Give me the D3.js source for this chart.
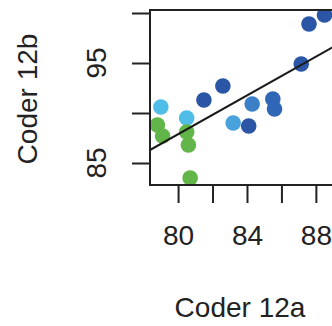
<!DOCTYPE html>
<html>
<head>
<meta charset="utf-8">
<script src="https://cdn.jsdelivr.net/npm/d3@7"></script>
<style>
  body { margin: 0; background: #fff; }
  svg { display: block; font-family: "Liberation Sans", Arial, sans-serif; }
</style>
</head>
<body>
<svg id="chart" width="332" height="326"></svg>
<script>
// scores of the two coders
const coder12a = [88.5, 87.6, 87.15, 82.6, 81.5, 84.3, 85.5, 85.6, 84.1, 83.2, 79.0, 80.5, 78.8, 79.1, 80.5, 80.6, 80.7];
const coder12b = [99.8, 98.9, 94.9, 92.7, 91.3, 90.9, 91.4, 90.4, 88.7, 89.0, 90.6, 89.5, 88.8, 87.7, 88.1, 86.8, 83.5];
const group    = ["d", "d", "d", "d", "d", "m", "md", "md", "d", "l", "c", "c", "g", "g", "g", "g", "g"];
const groups = ["g", "c", "l", "m", "md", "d"];

// fitted line
const fitIntercept = 10.28;
const fitSlope = 0.97;

const xTicks = [80, 82, 84, 86, 88];
const xLabels = [80, 84, 88];
const yTicks = [85, 90, 95, 100];
const yLabels = [85, 95];

const svg = d3.select("#chart");
const pLeft = 150, pTop = 10, pRight = 340, pBottom = 185;

const x = d3.scaleLinear().domain([78.37, 89.4]).range([pLeft, pRight]);
const y = d3.scaleLinear().domain([82.8, 100.3]).range([pBottom, pTop]);
const color = d3.scaleOrdinal()
  .domain(groups)
  .range(["#62b548", "#4fbde7", "#4aa2dc", "#3b7fc7", "#3066b6", "#2b56a6"]);

svg.append("defs").append("clipPath").attr("id", "plotClip")
  .append("rect")
  .attr("x", pLeft).attr("y", pTop)
  .attr("width", pRight - pLeft).attr("height", pBottom - pTop);

const plot = svg.append("g").attr("clip-path", "url(#plotClip)");

// punts
plot.selectAll("circle")
  .data(coder12a.map((d, i) => ({ a: d, b: coder12b[i], g: group[i] })))
  .enter().append("circle")
  .attr("cx", d => x(d.a))
  .attr("cy", d => y(d.b))
  .attr("r", 7.8)
  .attr("fill", d => color(d.g));

// recta de regressio
const xd = x.domain();
plot.append("line")
  .attr("x1", x(xd[0])).attr("y1", y(fitIntercept + fitSlope * xd[0]))
  .attr("x2", x(xd[1])).attr("y2", y(fitIntercept + fitSlope * xd[1]))
  .attr("stroke", "#1a1a1a")
  .attr("stroke-width", 2);

// caixa
svg.append("rect")
  .attr("x", pLeft).attr("y", pTop)
  .attr("width", pRight - pLeft).attr("height", pBottom - pTop)
  .attr("fill", "none")
  .attr("stroke", "#222")
  .attr("stroke-width", 2);

// eixos
const xAxis = svg.append("g")
  .attr("transform", `translate(0,${pBottom})`)
  .call(d3.axisBottom(x).tickValues(xTicks).tickSize(18).tickPadding(22)
    .tickFormat(d => xLabels.includes(d) ? d : ""));

const yAxis = svg.append("g")
  .attr("transform", `translate(${pLeft},0)`)
  .call(d3.axisLeft(y).tickValues(yTicks).tickSize(18).tickFormat(""));

[xAxis, yAxis].forEach(g => {
  g.select(".domain").remove();
  g.selectAll(".tick line").attr("stroke", "#222").attr("stroke-width", 2);
  g.selectAll(".tick text")
    .attr("fill", "#222")
    .style("font-size", "28px")
    .style("font-family", "Liberation Sans, Arial, sans-serif");
});

// etiquetes eix y, girades
svg.append("g").selectAll("text")
  .data(yLabels)
  .enter().append("text")
  .attr("transform", d => `translate(106,${y(d)}) rotate(-90)`)
  .attr("text-anchor", "middle")
  .attr("fill", "#222")
  .style("font-size", "28px")
  .text(d => d);

// titols
svg.append("text")
  .attr("x", 240).attr("y", 317)
  .attr("text-anchor", "middle")
  .attr("fill", "#222")
  .style("font-size", "28px")
  .text("Coder 12a");

svg.append("text")
  .attr("transform", "translate(37,99) rotate(-90)")
  .attr("text-anchor", "middle")
  .attr("fill", "#222")
  .style("font-size", "28px")
  .text("Coder 12b");
</script>
</body>
</html>
